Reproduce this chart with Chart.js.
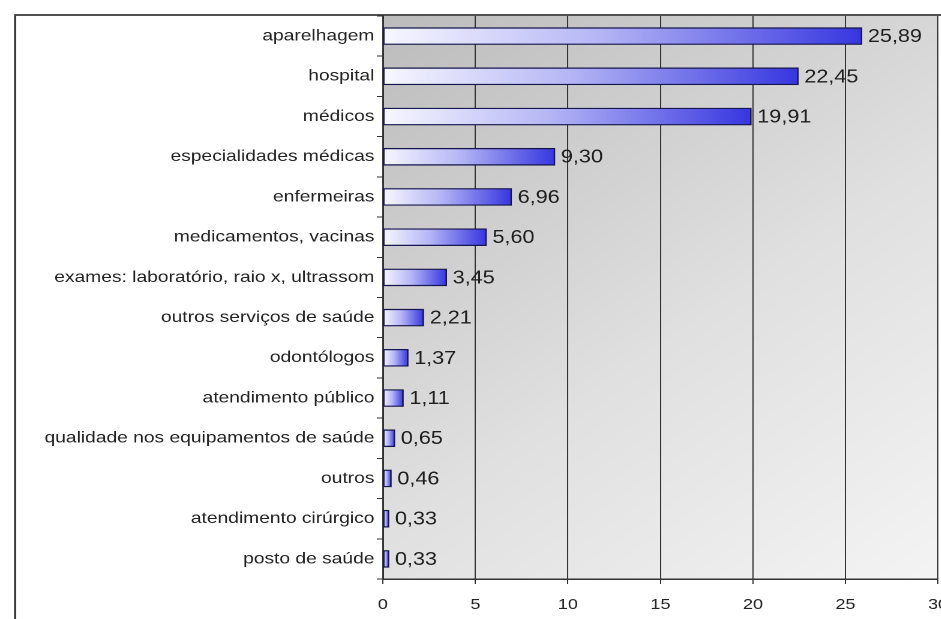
<!DOCTYPE html>
<html>
<head>
<meta charset="utf-8">
<script src="https://cdn.jsdelivr.net/npm/chart.js@4.4.1/dist/chart.umd.min.js"></script>
<style>
  html, body { margin: 0; padding: 0; background: #fff; overflow: hidden; width: 941px; height: 619px; }
  /* the whole chart is drawn a bit wide, like the original export */
  #wrap { position: absolute; left: 0; top: 0; transform: scaleX(1.2); transform-origin: 0 0; }
</style>
</head>
<body>
<div id="wrap"><canvas id="myChart" width="802" height="619"></canvas></div>
<script>
// DATA
const categories = [
    'aparelhagem',
    'hospital',
    'médicos',
    'especialidades médicas',
    'enfermeiras',
    'medicamentos, vacinas',
    'exames: laboratório, raio x, ultrassom',
    'outros serviços de saúde',
    'odontólogos',
    'atendimento público',
    'qualidade nos equipamentos de saúde',
    'outros',
    'atendimento cirúrgico',
    'posto de saúde'
];
const values = [25.89, 22.45, 19.91, 9.30, 6.96, 5.60, 3.45, 2.21, 1.37, 1.11, 0.65, 0.46, 0.33, 0.33];
const xTicks = [0, 5, 10, 15, 20, 25, 30];

const FONT = "'Liberation Sans', Arial, sans-serif";

// gray plot background + the frame lines on the left and top
const frameBg = {
    id: 'frameBg',
    beforeDraw(chart) {
        const { ctx, chartArea: a } = chart;
        ctx.save();
        const g = ctx.createLinearGradient(a.left, a.top, a.right, a.bottom);
        g.addColorStop(0, '#bcbcbc');
        g.addColorStop(0.55, '#e0e0e0');
        g.addColorStop(1, '#f4f4f4');
        ctx.fillStyle = g;
        ctx.fillRect(a.left, a.top, a.right - a.left, a.bottom - a.top);

        ctx.strokeStyle = '#3a3a3a';
        ctx.lineWidth = 1.8;
        ctx.beginPath();
        ctx.moveTo(12.6, chart.height);
        ctx.lineTo(12.6, 15);
        ctx.lineTo(chart.width, 15);
        ctx.stroke();
        ctx.restore();
    }
};

// value written to the right of every bar
const barValues = {
    id: 'barValues',
    afterDatasetsDraw(chart) {
        const { ctx } = chart;
        const meta = chart.getDatasetMeta(0);
        ctx.save();
        ctx.font = '18px ' + FONT;
        ctx.fillStyle = '#1e1e1e';
        ctx.textAlign = 'left';
        ctx.textBaseline = 'middle';
        meta.data.forEach((bar, i) => {
            const txt = values[i].toFixed(2).replace('.', ',');
            ctx.fillText(txt, bar.x + 5, bar.y + 1);
        });
        ctx.restore();
    }
};

function barFill(c) {
    const chart = c.chart;
    const x = chart.scales.x;
    if (!x || c.raw === undefined) return '#5050e8';
    const x0 = x.getPixelForValue(0);
    const x1 = x.getPixelForValue(c.raw);
    if (!Number.isFinite(x0) || !Number.isFinite(x1)) return '#5050e8';
    const g = chart.ctx.createLinearGradient(x0, 0, Math.max(x1, x0 + 1), 0);
    g.addColorStop(0, '#f8f8ff');
    g.addColorStop(0.45, '#b6b6f6');
    g.addColorStop(1, '#3636e0');
    return g;
}

const ctx = document.getElementById('myChart');

const myChart = new Chart(ctx, {
    type: 'bar',
    data: {
        labels: categories,
        datasets: [{
            data: values,
            backgroundColor: barFill,
            borderColor: '#16164e',
            borderWidth: 1.3,
            borderSkipped: false,
            barThickness: 17
        }]
    },
    options: {
        indexAxis: 'y',
        responsive: false,
        animation: false,
        devicePixelRatio: 2,
        layout: { padding: { left: 14, top: 16, right: 0, bottom: 0 } },
        plugins: {
            legend: { display: false },
            tooltip: { enabled: false }
        },
        scales: {
            x: {
                min: 0,
                max: 30,
                afterBuildTicks: (s) => { s.ticks = xTicks.map(v => ({ value: v })); },
                afterFit: (s) => { s.height = 40; },
                grid: { color: '#333', lineWidth: 1, tickLength: 5 },
                border: { color: '#333', width: 1.5 },
                ticks: { color: '#222', font: { family: FONT, size: 15 }, padding: 12, maxRotation: 0 }
            },
            y: {
                afterFit: (s) => { s.width = 305; },
                grid: { drawOnChartArea: false, color: '#333', tickLength: 5, offset: true },
                border: { color: '#333', width: 1.5 },
                ticks: { color: '#222', font: { family: FONT, size: 16 }, padding: 2 }
            }
        }
    },
    plugins: [frameBg, barValues]
});
// gradients depend on the laid-out x scale, so draw once more
myChart.update('none');
</script>
</body>
</html>
